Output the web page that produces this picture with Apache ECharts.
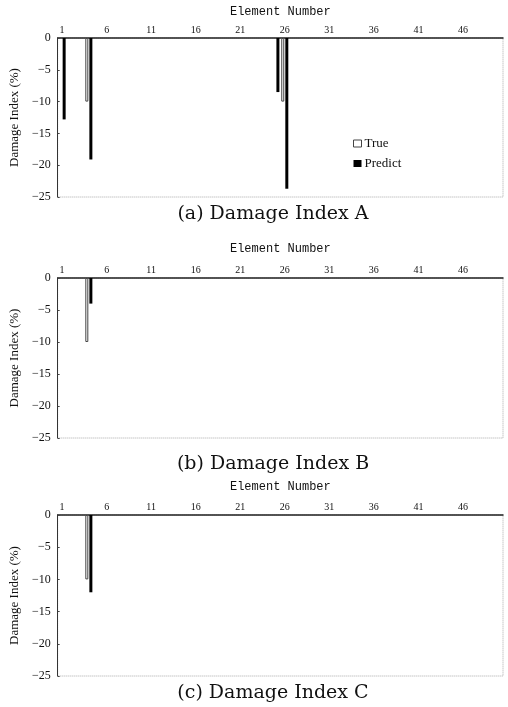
<!DOCTYPE html>
<html>
<head>
<meta charset="utf-8">
<script src="https://cdn.jsdelivr.net/npm/echarts@6/dist/echarts.min.js"></script>
<style>
  html, body { margin: 0; padding: 0; background: #fff; }
  #chart { width: 508px; height: 707px; }
</style>
</head>
<body>
<div id="chart"></div>
<script>
// 요소 번호 (1..50)
const elements = ['1','2','3','4','5','6','7','8','9','10','11','12','13','14','15','16','17','18','19','20',
  '21','22','23','24','25','26','27','28','29','30','31','32','33','34','35','36','37','38','39','40',
  '41','42','43','44','45','46','47','48','49','50'];

// [요소, 손상지수(%)]
const trueA = [['4', -10], ['26', -10]];
const predictA = [['1', -12.8], ['4', -19.1], ['25', -8.5], ['26', -23.7]];
const trueB = [['4', -10]];
const predictB = [['4', -4]];
const trueC = [['4', -10]];
const predictC = [['4', -12]];

const captions = ['(a) Damage Index A', '(b) Damage Index B', '(c) Damage Index C'];

const panels = [
  { top: 38, height: 159, nameGap: 20, capTop: 200, t: trueA, p: predictA },
  { top: 278, height: 160, nameGap: 23, capTop: 450, t: trueB, p: predictB },
  { top: 515, height: 161, nameGap: 22, capTop: 679, t: trueC, p: predictC }
];

const serif = 'Liberation Serif';

const grid = [], xAxis = [], yAxis = [], series = [], title = [];

panels.forEach((pn, i) => {
  grid.push({
    left: 57, right: 5, top: pn.top, height: pn.height,
    show: true, borderColor: '#aaa', borderWidth: 1, borderType: 'dotted'
  });
  xAxis.push({
    gridIndex: i, type: 'category', data: elements, position: 'top',
    name: 'Element Number', nameLocation: 'middle', nameGap: pn.nameGap,
    nameTextStyle: { fontFamily: 'Liberation Mono', fontSize: 12, color: '#111' },
    axisLine: { lineStyle: { color: '#222', width: 1.5 } },
    axisTick: { inside: true, length: 2, interval: 4, alignWithLabel: true, lineStyle: { color: '#444' } },
    axisLabel: { interval: 4, fontFamily: serif, fontSize: 10, color: '#111', margin: 3 },
    splitLine: { show: false }
  });
  yAxis.push({
    gridIndex: i, type: 'value', min: -25, max: 0, interval: 5,
    name: 'Damage Index (%)', nameLocation: 'middle', nameGap: 34,
    nameTextStyle: { fontFamily: serif, fontSize: 13, color: '#111' },
    axisLine: { show: true, lineStyle: { color: '#333', width: 1 } },
    axisTick: { show: true, inside: true, length: 2, lineStyle: { color: '#444' } },
    axisLabel: {
      fontFamily: serif, fontSize: 12, color: '#111', margin: 7,
      formatter: v => String(v).replace('-', '\u2212')
    },
    splitLine: { show: false }
  });
  series.push({
    name: 'True', type: 'bar', xAxisIndex: i, yAxisIndex: i, data: pn.t,
    barWidth: 3, barGap: '35%',
    itemStyle: { color: '#fff', borderColor: '#444', borderWidth: 1 }
  });
  series.push({
    name: 'Predict', type: 'bar', xAxisIndex: i, yAxisIndex: i, data: pn.p,
    barWidth: 3, barGap: '35%',
    itemStyle: { color: '#000' }
  });
  title.push({
    text: captions[i], left: 268, textAlign: 'center', top: pn.capTop,
    textStyle: { fontFamily: 'DejaVu Serif', fontSize: 19, fontWeight: 'normal', color: '#111' }
  });
});

const chart = echarts.init(document.getElementById('chart'), null, { renderer: 'canvas' });
chart.setOption({
  animation: false,
  backgroundColor: '#fff',
  title: title,
  legend: {
    data: [
      { name: 'True', icon: 'rect', itemStyle: { color: '#fff', borderColor: '#444', borderWidth: 1 } },
      { name: 'Predict', icon: 'rect', itemStyle: { color: '#000' } }
    ],
    orient: 'vertical', left: 353, top: 137,
    itemWidth: 8, itemHeight: 7, itemGap: 7, padding: 0,
    textStyle: { fontFamily: serif, fontSize: 13, color: '#111', padding: [0, 0, 0, -2] }
  },
  grid: grid,
  xAxis: xAxis,
  yAxis: yAxis,
  series: series
});
</script>
</body>
</html>
